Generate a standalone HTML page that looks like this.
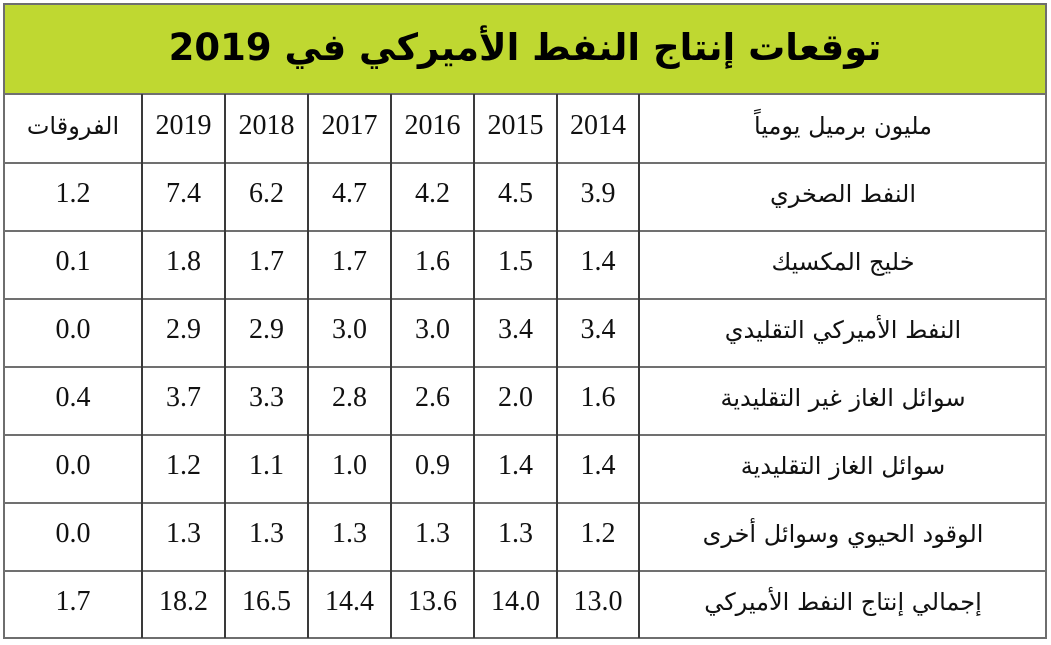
<!DOCTYPE html>
<html><head><meta charset="utf-8">
<style>
html,body{margin:0;padding:0;background:#fff;}
body{width:1051px;height:645px;position:relative;overflow:hidden;}
.g{position:absolute;left:4px;top:4px;width:1042px;height:90px;background:#bfd831;}
.t{position:absolute;left:4px;top:4px;width:1042px;height:86px;display:flex;align-items:center;justify-content:center;font-family:"DejaVu Sans",sans-serif;font-weight:bold;font-size:37px;color:#000;direction:rtl;}
.b{position:absolute;left:3px;top:3px;width:1040px;height:632px;border:2px solid #6e6e6e;}
.h{position:absolute;left:4px;width:1042px;height:2px;background:#707070;}
.v{position:absolute;top:94px;height:544px;width:2px;background:#3a3a3a;}
.c{position:absolute;display:flex;align-items:center;justify-content:center;font-family:"Liberation Serif",serif;font-size:28px;color:#111;padding-bottom:6px;box-sizing:border-box;}
.a{font-family:"DejaVu Sans",sans-serif;font-size:24px;direction:rtl;}
</style></head><body>
<div class="g"></div>
<div class="t">توقعات إنتاج النفط الأميركي في 2019</div>
<div class="b"></div>
<div class="h" style="top:93px"></div>
<div class="h" style="top:162px"></div>
<div class="h" style="top:230px"></div>
<div class="h" style="top:298px"></div>
<div class="h" style="top:366px"></div>
<div class="h" style="top:434px"></div>
<div class="h" style="top:502px"></div>
<div class="h" style="top:570px"></div>
<div class="v" style="left:141px"></div>
<div class="v" style="left:224px"></div>
<div class="v" style="left:307px"></div>
<div class="v" style="left:390px"></div>
<div class="v" style="left:473px"></div>
<div class="v" style="left:556px"></div>
<div class="v" style="left:638px"></div>

<div class="c a" style="left:4px;top:94px;width:138px;height:69px">الفروقات</div>
<div class="c" style="left:142px;top:94px;width:83px;height:69px">2019</div>
<div class="c" style="left:225px;top:94px;width:83px;height:69px">2018</div>
<div class="c" style="left:308px;top:94px;width:83px;height:69px">2017</div>
<div class="c" style="left:391px;top:94px;width:83px;height:69px">2016</div>
<div class="c" style="left:474px;top:94px;width:83px;height:69px">2015</div>
<div class="c" style="left:557px;top:94px;width:82px;height:69px">2014</div>
<div class="c a" style="left:640px;top:94px;width:406px;height:69px">مليون برميل يومياً</div>

<div class="c" style="left:4px;top:163px;width:138px;height:68px">1.2</div>
<div class="c" style="left:142px;top:163px;width:83px;height:68px">7.4</div>
<div class="c" style="left:225px;top:163px;width:83px;height:68px">6.2</div>
<div class="c" style="left:308px;top:163px;width:83px;height:68px">4.7</div>
<div class="c" style="left:391px;top:163px;width:83px;height:68px">4.2</div>
<div class="c" style="left:474px;top:163px;width:83px;height:68px">4.5</div>
<div class="c" style="left:557px;top:163px;width:82px;height:68px">3.9</div>
<div class="c a" style="left:640px;top:163px;width:406px;height:68px">النفط الصخري</div>

<div class="c" style="left:4px;top:231px;width:138px;height:68px">0.1</div>
<div class="c" style="left:142px;top:231px;width:83px;height:68px">1.8</div>
<div class="c" style="left:225px;top:231px;width:83px;height:68px">1.7</div>
<div class="c" style="left:308px;top:231px;width:83px;height:68px">1.7</div>
<div class="c" style="left:391px;top:231px;width:83px;height:68px">1.6</div>
<div class="c" style="left:474px;top:231px;width:83px;height:68px">1.5</div>
<div class="c" style="left:557px;top:231px;width:82px;height:68px">1.4</div>
<div class="c a" style="left:640px;top:231px;width:406px;height:68px">خليج المكسيك</div>

<div class="c" style="left:4px;top:299px;width:138px;height:68px">0.0</div>
<div class="c" style="left:142px;top:299px;width:83px;height:68px">2.9</div>
<div class="c" style="left:225px;top:299px;width:83px;height:68px">2.9</div>
<div class="c" style="left:308px;top:299px;width:83px;height:68px">3.0</div>
<div class="c" style="left:391px;top:299px;width:83px;height:68px">3.0</div>
<div class="c" style="left:474px;top:299px;width:83px;height:68px">3.4</div>
<div class="c" style="left:557px;top:299px;width:82px;height:68px">3.4</div>
<div class="c a" style="left:640px;top:299px;width:406px;height:68px">النفط الأميركي التقليدي</div>

<div class="c" style="left:4px;top:367px;width:138px;height:68px">0.4</div>
<div class="c" style="left:142px;top:367px;width:83px;height:68px">3.7</div>
<div class="c" style="left:225px;top:367px;width:83px;height:68px">3.3</div>
<div class="c" style="left:308px;top:367px;width:83px;height:68px">2.8</div>
<div class="c" style="left:391px;top:367px;width:83px;height:68px">2.6</div>
<div class="c" style="left:474px;top:367px;width:83px;height:68px">2.0</div>
<div class="c" style="left:557px;top:367px;width:82px;height:68px">1.6</div>
<div class="c a" style="left:640px;top:367px;width:406px;height:68px">سوائل الغاز غير التقليدية</div>

<div class="c" style="left:4px;top:435px;width:138px;height:68px">0.0</div>
<div class="c" style="left:142px;top:435px;width:83px;height:68px">1.2</div>
<div class="c" style="left:225px;top:435px;width:83px;height:68px">1.1</div>
<div class="c" style="left:308px;top:435px;width:83px;height:68px">1.0</div>
<div class="c" style="left:391px;top:435px;width:83px;height:68px">0.9</div>
<div class="c" style="left:474px;top:435px;width:83px;height:68px">1.4</div>
<div class="c" style="left:557px;top:435px;width:82px;height:68px">1.4</div>
<div class="c a" style="left:640px;top:435px;width:406px;height:68px">سوائل الغاز التقليدية</div>

<div class="c" style="left:4px;top:503px;width:138px;height:68px">0.0</div>
<div class="c" style="left:142px;top:503px;width:83px;height:68px">1.3</div>
<div class="c" style="left:225px;top:503px;width:83px;height:68px">1.3</div>
<div class="c" style="left:308px;top:503px;width:83px;height:68px">1.3</div>
<div class="c" style="left:391px;top:503px;width:83px;height:68px">1.3</div>
<div class="c" style="left:474px;top:503px;width:83px;height:68px">1.3</div>
<div class="c" style="left:557px;top:503px;width:82px;height:68px">1.2</div>
<div class="c a" style="left:640px;top:503px;width:406px;height:68px">الوقود الحيوي وسوائل أخرى</div>

<div class="c" style="left:4px;top:571px;width:138px;height:67px">1.7</div>
<div class="c" style="left:142px;top:571px;width:83px;height:67px">18.2</div>
<div class="c" style="left:225px;top:571px;width:83px;height:67px">16.5</div>
<div class="c" style="left:308px;top:571px;width:83px;height:67px">14.4</div>
<div class="c" style="left:391px;top:571px;width:83px;height:67px">13.6</div>
<div class="c" style="left:474px;top:571px;width:83px;height:67px">14.0</div>
<div class="c" style="left:557px;top:571px;width:82px;height:67px">13.0</div>
<div class="c a" style="left:640px;top:571px;width:406px;height:67px">إجمالي إنتاج النفط الأميركي</div>
</body></html>
